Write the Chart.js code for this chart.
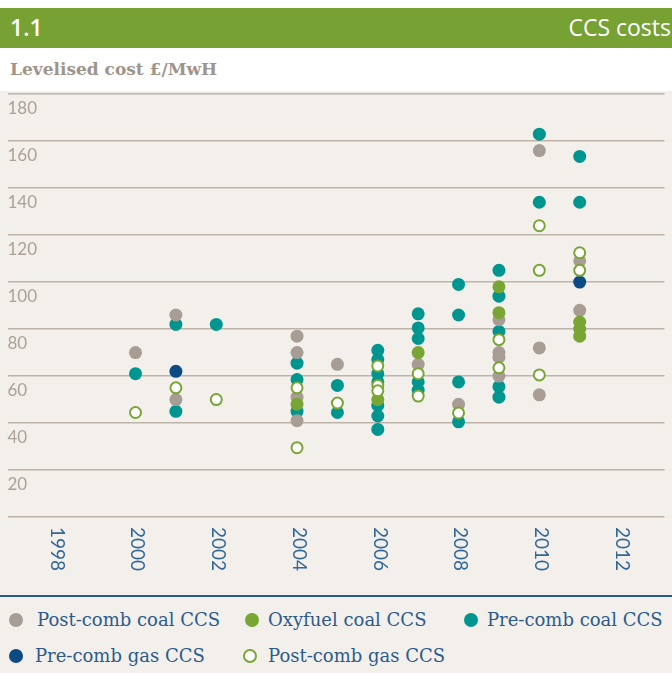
<!DOCTYPE html>
<html>
<head>
<meta charset="utf-8">
<script src="https://cdn.jsdelivr.net/npm/chart.js@4.4.0/dist/chart.umd.min.js"></script>
<style>
  body { margin: 0; width: 672px; height: 673px; background: #fff; position: relative; overflow: hidden; font-family: 'Open Sans', sans-serif; }
  .header { position: absolute; left: 0; top: 8px; width: 672px; height: 40px; background: #77a133; color: #fff; }
  .header .num { position: absolute; left: 10px; top: 3px; font-size: 23px; font-weight: 600; }
  .header .title { position: absolute; right: 1px; top: 3px; font-size: 23px; }
  .subtitle { position: absolute; left: 10px; top: 59px; font-family: 'DejaVu Serif', serif; font-size: 17px; font-weight: bold; color: #9e948b; }
  .panel { position: absolute; left: 0; top: 91px; width: 672px; height: 582px; background: #f3f0ec; }
  .chart-box { position: absolute; left: 0; top: 84px; width: 672px; height: 510px; }
  .rule { position: absolute; left: 0; top: 595px; width: 672px; border-top: 2px solid #2a5a8c; }
  .legend-item { position: absolute; font-family: 'DejaVu Serif', serif; font-size: 18px; line-height: 22px; color: #2b5b8c; white-space: nowrap; }
  .dot { position: absolute; width: 14px; height: 14px; border-radius: 50%; box-sizing: border-box; }
</style>
</head>
<body>
<div class="header"><span class="num">1.1</span><span class="title">CCS costs</span></div>
<div class="subtitle">Levelised cost £/MwH</div>
<div class="panel"></div>
<div class="chart-box"><canvas id="ccsChart"></canvas></div>
<div class="rule"></div>
<div id="legend"></div>

<script>
// year, levelised cost (£/MWh)
const postCombCoal = [
    [2000, 70], [2001, 86], [2001, 50],
    [2004, 77], [2004, 70], [2004, 51], [2004, 41],
    [2005, 65], [2007, 65], [2008, 48],
    [2009, 84], [2009, 70], [2009, 68], [2009, 60],
    [2010, 156], [2010, 72], [2010, 52],
    [2011, 109], [2011, 88]
];
const oxyfuelCoal = [
    [2004, 48], [2006, 50], [2007, 70],
    [2009, 98], [2009, 87],
    [2011, 83], [2011, 80], [2011, 77]
];
const preCombCoal = [
    [2000, 61], [2001, 82], [2001, 45], [2002, 82],
    [2004, 65.5], [2004, 58.5], [2004, 45],
    [2005, 56], [2005, 44.5],
    [2006, 71], [2006, 67], [2006, 61], [2006, 57.5], [2006, 47.5], [2006, 43], [2006, 37.3],
    [2007, 86.5], [2007, 80.5], [2007, 76], [2007, 57.5], [2007, 54],
    [2008, 99], [2008, 86], [2008, 57.5], [2008, 40.5],
    [2009, 105], [2009, 94], [2009, 79], [2009, 55.5], [2009, 51],
    [2010, 163], [2010, 134],
    [2011, 153.5], [2011, 134]
];
const preCombGas = [
    [2001, 62], [2011, 100]
];
const postCombGas = [
    [2000, 44.5], [2001, 55], [2002, 50],
    [2004, 55], [2004, 29.5], [2005, 48.5],
    [2006, 64.3], [2006, 56], [2006, 53.7],
    [2007, 61], [2007, 51.5], [2008, 44.3],
    [2009, 75.5], [2009, 63.5],
    [2010, 124], [2010, 105], [2010, 60.5],
    [2011, 112.5], [2011, 105]
];
const yearTicks = [1998, 2000, 2002, 2004, 2006, 2008, 2010, 2012];

const toPoints = arr => arr.map(p => ({ x: p[0], y: p[1] }));

// legend placement: row, dot left, text offset
const series = [
    { label: 'Post-comb coal CCS', data: postCombCoal, fill: '#a79d94', border: '#a79d94', order: 3, row: 0, left: 9, textOff: 28 },
    { label: 'Oxyfuel coal CCS', data: oxyfuelCoal, fill: '#79a534', border: '#79a534', order: 2, row: 0, left: 245, textOff: 23 },
    { label: 'Pre-comb coal CCS', data: preCombCoal, fill: '#00968f', border: '#00968f', order: 4, row: 0, left: 464, textOff: 23 },
    { label: 'Pre-comb gas CCS', data: preCombGas, fill: '#0c4a84', border: '#0c4a84', order: 1, row: 1, left: 9, textOff: 26 },
    { label: 'Post-comb gas CCS', data: postCombGas, fill: '#ffffff', border: '#79a534', order: 0, row: 1, left: 243, textOff: 25, open: true }
];

// rotated year labels (read top to bottom)
const yearLabels = {
    id: 'yearLabels',
    afterDraw(chart) {
        const ctx = chart.ctx;
        const x = chart.scales.x;
        const y = chart.scales.y;
        ctx.save();
        ctx.font = '19px Lato';
        ctx.fillStyle = '#32679a';
        ctx.textAlign = 'left';
        ctx.textBaseline = 'middle';
        yearTicks.forEach(yr => {
            ctx.save();
            ctx.translate(x.getPixelForValue(yr) + 2, y.bottom + 10);
            ctx.rotate(Math.PI / 2);
            ctx.fillText(String(yr), 0, 0);
            ctx.restore();
        });
        ctx.restore();
    }
};

new Chart(document.getElementById('ccsChart').getContext('2d'), {
    type: 'scatter',
    data: {
        datasets: series.map(s => ({
            label: s.label,
            data: toPoints(s.data),
            backgroundColor: s.fill,
            borderColor: s.border,
            borderWidth: s.open ? 2 : 0,
            pointRadius: s.open ? 5.5 : 6.5,
            order: s.order
        }))
    },
    options: {
        responsive: true,
        maintainAspectRatio: false,
        animation: false,
        layout: { padding: { top: 3, bottom: 77, left: 3, right: 0 } },
        plugins: {
            legend: { display: false },
            tooltip: { enabled: false }
        },
        scales: {
            x: {
                type: 'linear',
                display: false,
                min: 1996.83,
                max: 2013.1
            },
            y: {
                min: 0,
                max: 180,
                border: { display: false },
                grid: { color: '#bdb3a9', lineWidth: 1.5, drawTicks: false },
                ticks: {
                    stepSize: 20,
                    mirror: true,
                    padding: 0,
                    labelOffset: 14,
                    color: '#aba198',
                    font: { family: 'Lato', size: 17 },
                    callback: v => v === 0 ? '' : v
                }
            }
        }
    },
    plugins: [yearLabels]
});

// legend
const legend = document.getElementById('legend');
series.forEach(s => {
    const item = document.createElement('div');
    item.className = 'legend-item';
    item.style.left = s.left + 'px';
    item.style.top = (s.row === 0 ? 609 : 645) + 'px';
    const dot = document.createElement('span');
    dot.className = 'dot';
    dot.style.left = '0px';
    dot.style.top = '4px';
    dot.style.background = s.fill;
    dot.style.border = s.open ? '2px solid ' + s.border : 'none';
    const txt = document.createElement('span');
    txt.style.marginLeft = s.textOff + 'px';
    txt.textContent = s.label;
    item.appendChild(dot);
    item.appendChild(txt);
    legend.appendChild(item);
});
</script>
</body>
</html>
